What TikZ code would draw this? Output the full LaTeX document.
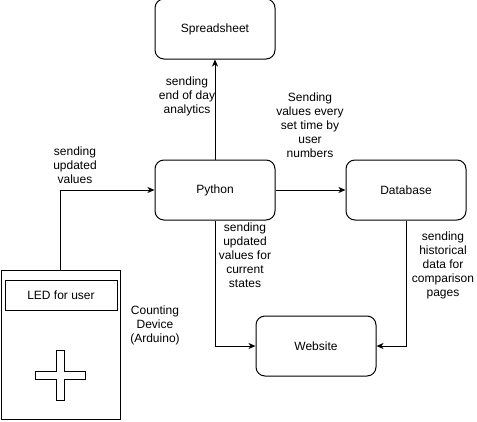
\documentclass[tikz,border=0pt]{standalone}
\usepackage{fontspec}
\setmainfont{Liberation Sans}
\usepackage{tikz}
\usetikzlibrary{arrows.meta, positioning}
\tikzstyle{process} = [rectangle, draw, line width=1pt, align=center, rounded corners=9pt, minimum width=120pt, minimum height=60pt, inner sep=0pt]
\tikzstyle{device} = [rectangle, draw, line width=1pt, minimum width=119pt, minimum height=149pt, inner sep=0pt]
\tikzstyle{ledbox} = [rectangle, draw, line width=1pt, minimum width=112pt, minimum height=30pt, inner sep=0pt]
\tikzstyle{lbl} = [align=center, inner sep=1pt]
\tikzstyle{arrow} = [-{Stealth[length=7pt,width=6pt,inset=2pt]}, line width=1pt]

\begin{document}
\begin{tikzpicture}[x=1pt, y=-1pt, font=\fontsize{12}{14}\selectfont]
\useasboundingbox (0,0) rectangle (477,421);

% Main blocks
\node[process] (python) at (215,190) {Python};
\node[process, above=100pt of python] (sheet) {Spreadsheet};
\node[process, right=70pt of python] (db) {Database};
\node[process, below right=95pt and -20pt of python] (web) {Website};

% Counting device
\node[device] (device) at (60.5,344.5) {};
\node[ledbox] (led) at (61,295) {LED for user};
\draw[line width=1pt] (35,371) -- (56,371) -- (56,350) -- (64,350) -- (64,371) -- (85,371)
  -- (85,379) -- (64,379) -- (64,400) -- (56,400) -- (56,379) -- (35,379) -- cycle;
\node[lbl] (devname) at (155,325) {Counting\\Device\\(Arduino)};

% Connectors
\draw[arrow] (device.north) |- (python.west);
\draw[arrow] (python.north) -- (sheet.south);
\draw[arrow] (python.east) -- (db.west);
\draw[arrow] (python.south) |- (web.west);
\draw[arrow] (db.south) |- (web.east);

% Connector labels
\node[lbl] (lbl_in) at (75,165) {sending\\updated\\values};
\node[lbl] (lbl_sheet) at (187,96) {sending\\end of day\\analytics};
\node[lbl] (lbl_db) at (310,125) {Sending\\values every\\set time by\\user\\numbers};
\node[lbl] (lbl_web) at (245,255) {sending\\updated\\values for\\current\\states};
\node[lbl] (lbl_hist) at (443,265) {sending\\historical\\data for\\comparison\\pages};

\end{tikzpicture}
\end{document}
